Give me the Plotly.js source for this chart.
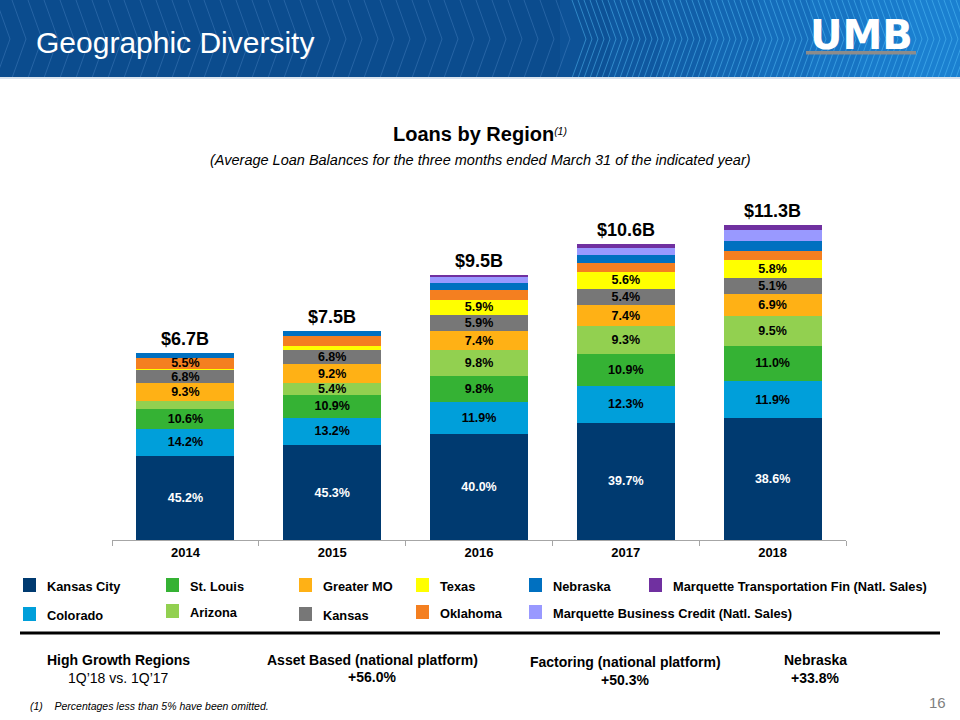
<!DOCTYPE html>
<html>
<head>
<meta charset="utf-8">
<script src="https://cdn.plot.ly/plotly-3.0.1.min.js"></script>
<style>
html,body{margin:0;padding:0;background:#fff;}
#chart{width:960px;height:720px;}
</style>
</head>
<body>
<div id="chart"></div>
<script>
// ---- data ----
const years = ['2014', '2015', '2016', '2017', '2018'];
const totals = [6.7, 7.5, 9.5, 10.6, 11.3];
const totalLabels = ['$6.7B', '$7.5B', '$9.5B', '$10.6B', '$11.3B'];
// share of loans by region, percent (bottom to top of each stack)
const kansasCity = [45.2, 45.3, 40.0, 39.7, 38.6];
const colorado = [14.2, 13.2, 11.9, 12.3, 11.9];
const stLouis = [10.6, 10.9, 9.8, 10.9, 11.0];
const arizona = [4.6, 5.4, 9.8, 9.3, 9.5];
const greaterMO = [9.3, 9.2, 7.4, 7.4, 6.9];
const kansas = [6.8, 6.8, 5.9, 5.4, 5.1];
const texas = [1.0, 2.1, 5.9, 5.6, 5.8];
const oklahoma = [5.5, 4.4, 3.8, 3.2, 2.8];
const nebraska = [2.8, 2.7, 2.6, 2.6, 3.2];
const marquetteBusiness = [0, 0, 2.1, 2.4, 3.4];
const marquetteTransport = [0, 0, 0.8, 1.2, 1.8];

const regionNames = ['Kansas City', 'Colorado', 'St. Louis', 'Arizona', 'Greater MO', 'Kansas',
  'Texas', 'Oklahoma', 'Nebraska', 'Marquette Business Credit (Natl. Sales)', 'Marquette Transportation Fin (Natl. Sales)'];
const regionShares = [kansasCity, colorado, stLouis, arizona, greaterMO, kansas,
  texas, oklahoma, nebraska, marquetteBusiness, marquetteTransport];

const bottomHeads = ['High Growth Regions', 'Asset Based (national platform)', 'Factoring (national platform)', 'Nebraska'];
const bottomValues = ['1Q\u201918 vs. 1Q\u201917', '+56.0%', '+50.3%', '+33.8%'];

// ---- styles ----
const colors = ['#003A70', '#009FDA', '#35B234', '#92D050', '#FFB115', '#777777',
  '#FFFF00', '#F47F20', '#0070C0', '#9999FF', '#7030A0'];
const FONT = 'Liberation Sans, Arial, Helvetica, sans-serif';

// page geometry (pixels)
const W = 960, H = 720, ML = 112, MR = 114, MT = 200, MB = 180;
const PW = W - ML - MR, PH = H - MT - MB;
const px = v => (v - ML) / PW;
const py = v => (H - MB - v) / PH;

const traces = regionNames.map((name, i) => ({
  type: 'bar',
  name: name,
  x: years,
  y: regionShares[i].map((p, j) => p / 100 * totals[j]),
  text: regionShares[i].map(p => p >= 5 ? p.toFixed(1) + '%' : ''),
  textposition: 'inside',
  insidetextanchor: 'middle',
  constraintext: 'none',
  textangle: 0,
  textfont: {family: FONT, size: 12.5, color: i === 0 ? '#FFFFFF' : '#000000', weight: 'bold'},
  marker: {color: colors[i], line: {width: 0}},
  hoverinfo: 'skip',
  showlegend: false
}));

const shapes = [];
const annotations = [];

// header banner
shapes.push({type: 'rect', xref: 'paper', yref: 'paper', x0: px(0), x1: px(W), y0: py(0), y1: py(78),
  fillcolor: '#0B4C8E', line: {width: 0}, layer: 'below'});
const grad = ['#0D5297', '#0F58A0', '#115FA9', '#1366B2', '#156DBB', '#1774C3', '#197BCB', '#1B80D0'];
grad.forEach((c, k) => {
  const x0 = 560 + k * 50;
  shapes.push({type: 'rect', xref: 'paper', yref: 'paper', x0: px(x0), x1: px(x0 + 50), y0: py(0), y1: py(78),
    fillcolor: c, line: {width: 0}, layer: 'below'});
});
// chevron line texture
for (let x = -20; x < 980; x += (x < 560 ? 16 : 6)) {
  const bright = x >= 560;
  const path = 'M' + px(x) + ',' + py(0) + ' L' + px(x + 14) + ',' + py(39) + ' L' + px(x) + ',' + py(78);
  shapes.push({type: 'path', xref: 'paper', yref: 'paper', path: path,
    line: {color: bright ? 'rgba(90,200,255,0.45)' : 'rgba(120,170,230,0.25)', width: 1}, layer: 'below'});
}
shapes.push({type: 'rect', xref: 'paper', yref: 'paper', x0: px(0), x1: px(W), y0: py(77), y1: py(79),
  fillcolor: '#D9E3EE', line: {width: 0}, layer: 'below'});
// logo underline
shapes.push({type: 'rect', xref: 'paper', yref: 'paper', x0: px(806), x1: px(916), y0: py(51), y1: py(54.5),
  fillcolor: '#8C8C8C', line: {width: 0}});

annotations.push({xref: 'paper', yref: 'paper', x: px(34), y: py(42), xanchor: 'left', yanchor: 'middle',
  text: 'Geographic Diversity', showarrow: false, font: {family: FONT, size: 30, color: '#FFFFFF'}});
annotations.push({xref: 'paper', yref: 'paper', x: px(861), y: py(35), xanchor: 'center', yanchor: 'middle',
  text: '<b>UMB</b>', showarrow: false, font: {family: 'DejaVu Sans, ' + FONT, size: 40, color: '#FFFFFF', weight: 'bold'}});

// chart titles
annotations.push({xref: 'paper', yref: 'paper', x: px(480), y: py(134), xanchor: 'center', yanchor: 'middle',
  text: '<b>Loans by Region</b><span style="font-size:15px"><sup><i>(1)</i></sup></span>', showarrow: false,
  font: {family: FONT, size: 20, color: '#000000'}});
annotations.push({xref: 'paper', yref: 'paper', x: px(480), y: py(160), xanchor: 'center', yanchor: 'middle',
  text: '<i>(Average Loan Balances for the three months ended March 31 of the indicated year)</i>', showarrow: false,
  font: {family: FONT, size: 14.5, color: '#000000'}});

// totals above bars
years.forEach((yr, j) => {
  annotations.push({xref: 'x', yref: 'y', x: j, y: totals[j], xanchor: 'center', yanchor: 'bottom', yshift: 2,
    text: '<b>' + totalLabels[j] + '</b>', showarrow: false, font: {family: FONT, size: 18, color: '#000000'}});
});

// legend (custom layout as in the slide)
const legendPos = [
  [23, 585], [23, 614], [166, 585], [166, 611], [299, 585], [299, 614],
  [416, 585], [416, 612], [529, 585], [529, 612], [649, 585]
];
regionNames.forEach((name, i) => {
  const [lx, ly] = legendPos[i];
  shapes.push({type: 'rect', xref: 'paper', yref: 'paper', x0: px(lx), x1: px(lx + 13), y0: py(ly - 7), y1: py(ly + 7),
    fillcolor: colors[i], line: {width: 0}});
  annotations.push({xref: 'paper', yref: 'paper', x: px(lx + 22), y: py(ly + 1), xanchor: 'left', yanchor: 'middle',
    text: '<b>' + name + '</b>', showarrow: false, font: {family: FONT, size: 12.8, color: '#000000'}});
});

// separator
shapes.push({type: 'line', xref: 'paper', yref: 'paper', x0: px(20), x1: px(940), y0: py(633), y1: py(633),
  line: {color: '#000000', width: 3}});

// bottom highlights
const bottomX = [118, 372, 625, 815];
const bottomY = [[660, 678], [660, 677], [662, 680], [660, 678]];
bottomHeads.forEach((t, k) => {
  annotations.push({xref: 'paper', yref: 'paper', x: px(bottomX[k]), y: py(bottomY[k][0]), xanchor: 'center', yanchor: 'middle',
    text: '<b>' + t + '</b>', showarrow: false, font: {family: FONT, size: 14, color: '#000000'}});
  annotations.push({xref: 'paper', yref: 'paper', x: px(bottomX[k]), y: py(bottomY[k][1]), xanchor: 'center', yanchor: 'middle',
    text: k === 0 ? bottomValues[k] : '<b>' + bottomValues[k] + '</b>', showarrow: false,
    font: {family: FONT, size: 14, color: '#000000'}});
});
annotations.push({xref: 'paper', yref: 'paper', x: px(28), y: py(706), xanchor: 'left', yanchor: 'middle',
  text: '<i>(1)    Percentages less than 5% have been omitted.</i>', showarrow: false,
  font: {family: FONT, size: 10.5, color: '#000000'}});
annotations.push({xref: 'paper', yref: 'paper', x: px(948), y: py(702), xanchor: 'right', yanchor: 'middle',
  text: '16', showarrow: false, font: {family: FONT, size: 15, color: '#7F7F7F'}});

const layout = {
  width: W, height: H,
  margin: {l: ML, r: MR, t: MT, b: MB, pad: 0},
  paper_bgcolor: '#FFFFFF', plot_bgcolor: '#FFFFFF',
  barmode: 'stack', bargap: 0.333,
  showlegend: false,
  xaxis: {type: 'category', categoryorder: 'array', categoryarray: years, range: [-0.5, years.length - 0.5],
    autorange: false, showline: true, linecolor: '#A6A6A6', linewidth: 1,
    ticks: 'outside', tickson: 'boundaries', ticklen: 5, tickcolor: '#A6A6A6',
    showgrid: false, zeroline: false, fixedrange: true,
    tickfont: {family: FONT, size: 13, color: '#000000', weight: 'bold'}},
  yaxis: {range: [0, PH / 27.9], autorange: false, visible: false, showgrid: false, zeroline: false, fixedrange: true},
  shapes: shapes,
  annotations: annotations
};

Plotly.newPlot('chart', traces, layout, {displayModeBar: false, staticPlot: true});
</script>
</body>
</html>
